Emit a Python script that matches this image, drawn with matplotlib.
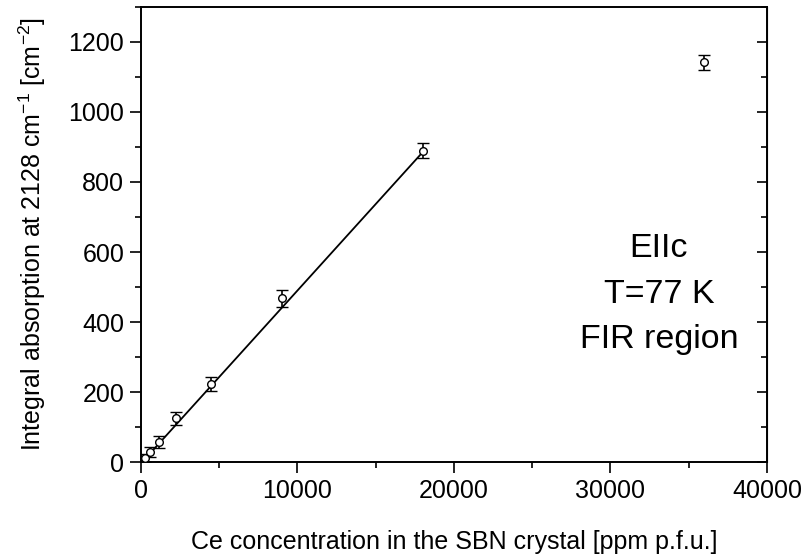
import matplotlib
matplotlib.use("Agg")
import matplotlib.pyplot as plt
import numpy as np
from matplotlib.ticker import MultipleLocator

plt.rcParams['font.family'] = ['Liberation Sans', 'DejaVu Sans']
plt.rcParams['mathtext.default'] = 'regular'

# Ce concentration (ppm p.f.u.) and integral absorption (cm^-2)
conc = [281, 562, 1125, 2250, 4500, 9000, 18000, 36000]
absorption = [12, 28, 57, 125, 222, 468, 889, 1142]
abs_err = [12, 14, 16, 18, 20, 24, 21, 21]

# Linear fit over the low-concentration range
fit_slope = 0.0494
fit_intercept = -4.0
fit_range = [250, 18000]

fig = plt.figure(figsize=(8.07, 5.58), dpi=100)
ax = fig.add_axes([0.1747, 0.172, 0.7757, 0.8155])

ax.errorbar(conc, absorption, yerr=abs_err, fmt='o', ms=5.5, mfc='white', mec='black',
            mew=1.0, ecolor='black', elinewidth=1.2, capsize=4, capthick=1.6, zorder=3)

xf = np.array(fit_range, dtype=float)
ax.plot(xf, fit_intercept + fit_slope * xf, color='black', lw=1.3, zorder=2)

ax.set_xlim(0, 40000)
ax.set_ylim(0, 1300)
ax.xaxis.set_major_locator(MultipleLocator(10000))
ax.xaxis.set_minor_locator(MultipleLocator(5000))
ax.yaxis.set_major_locator(MultipleLocator(200))
ax.yaxis.set_minor_locator(MultipleLocator(100))

ax.tick_params(axis='both', which='both', direction='out', labelsize=18,
               top=False, right=False, width=1.2, pad=4)
ax.tick_params(which='major', length=8)
ax.tick_params(which='minor', length=4.5)
for s in ax.spines.values():
    s.set_linewidth(1.4)

# inward ticks on the right spine
axr = ax.secondary_yaxis('right')
axr.yaxis.set_major_locator(MultipleLocator(200))
axr.yaxis.set_minor_locator(MultipleLocator(100))
axr.tick_params(which='both', direction='in', labelright=False, width=1.2)
axr.tick_params(which='major', length=7)
axr.tick_params(which='minor', length=4)

ax.set_xlabel('Ce concentration in the SBN crystal [ppm p.f.u.]', fontsize=18, labelpad=20)
ax.set_ylabel('Integral absorption at 2128 cm$^{-1}$ [cm$^{-2}$]', fontsize=18, labelpad=15)

ax.text(33100, 480, 'EIIc\nT=77 K\nFIR region', fontsize=24.5, ha='center', va='center',
        linespacing=1.6)

fig.savefig('out.png', dpi=100)
